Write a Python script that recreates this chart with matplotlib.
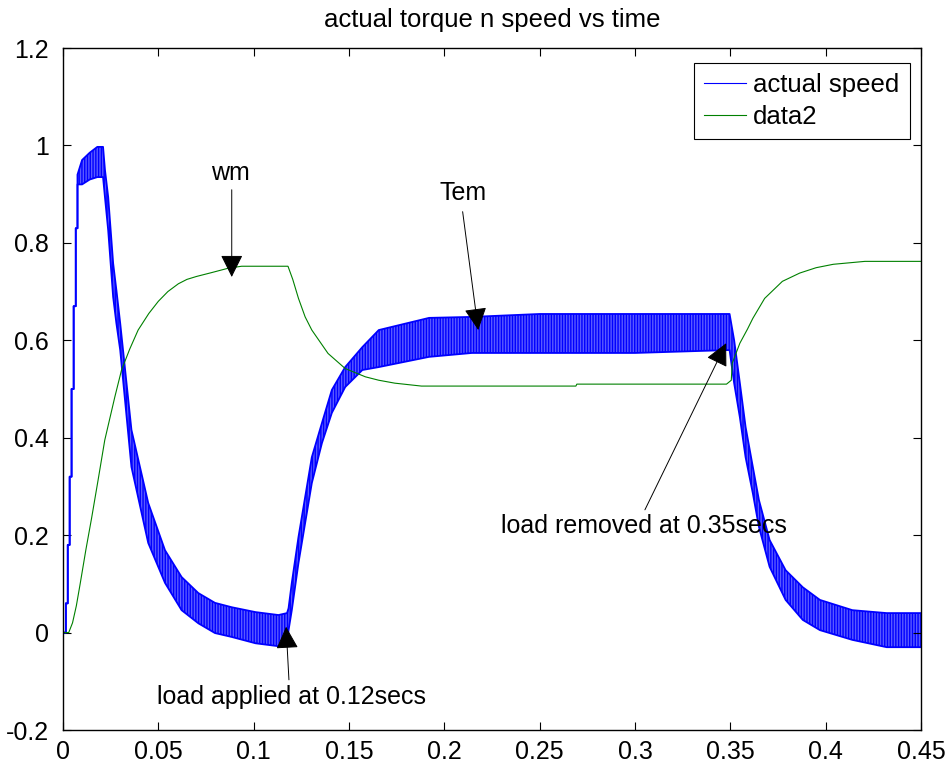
import matplotlib
matplotlib.use("Agg")
import matplotlib.pyplot as plt
from matplotlib.lines import Line2D

plt.rcParams['font.family'] = ['Liberation Sans', 'DejaVu Sans']
plt.rcParams['hatch.linewidth'] = 1.0

# blue curve (Tem): upper and lower edge of the ripple band
tem_t = [0.0, 0.0015, 0.0015, 0.0025, 0.0025, 0.0035, 0.0035, 0.0045, 0.0045,
         0.0056, 0.0056, 0.0067, 0.0067, 0.0076, 0.0076, 0.010, 0.014, 0.018,
         0.021, 0.022, 0.0237, 0.0263, 0.028, 0.030, 0.0359, 0.0447, 0.0535,
         0.0622, 0.071, 0.0797, 0.0885, 0.101, 0.113, 0.1175, 0.1183, 0.120,
         0.1235, 0.127, 0.1305, 0.1358, 0.141, 0.148, 0.157, 0.1656, 0.192,
         0.2145, 0.25, 0.30, 0.3496, 0.352, 0.355, 0.358, 0.3618, 0.365,
         0.3706, 0.379, 0.388, 0.397, 0.414, 0.432, 0.45]
tem_hi = [0.0, 0.0, 0.06, 0.06, 0.18, 0.18, 0.32, 0.32, 0.50,
          0.50, 0.67, 0.67, 0.83, 0.83, 0.94, 0.97, 0.985, 0.997,
          0.997, 0.95, 0.894, 0.758, 0.703, 0.635, 0.416, 0.266, 0.169,
          0.114, 0.081, 0.061, 0.052, 0.042, 0.036, 0.040, 0.050, 0.102,
          0.196, 0.278, 0.360, 0.430, 0.498, 0.545, 0.586, 0.621, 0.646,
          0.648, 0.654, 0.654, 0.654, 0.600, 0.512, 0.422, 0.340, 0.272,
          0.190, 0.128, 0.093, 0.067, 0.046, 0.040, 0.040]
tem_lo = [0.0, 0.0, 0.06, 0.06, 0.18, 0.18, 0.32, 0.32, 0.50,
          0.50, 0.67, 0.67, 0.83, 0.83, 0.92, 0.92, 0.93, 0.935,
          0.935, 0.894, 0.826, 0.689, 0.635, 0.580, 0.340, 0.184, 0.102,
          0.046, 0.019, -0.001, -0.009, -0.022, -0.028, -0.025, 0.005, 0.046,
          0.143, 0.225, 0.307, 0.389, 0.451, 0.504, 0.539, 0.545, 0.566,
          0.574, 0.574, 0.574, 0.580, 0.512, 0.442, 0.360, 0.286, 0.217,
          0.135, 0.067, 0.026, 0.005, -0.015, -0.030, -0.030]

# green curve (wm)
wm_t = [0.0, 0.003, 0.005, 0.007, 0.009, 0.012, 0.015, 0.0184, 0.0219, 0.0272,
        0.0307, 0.035, 0.0394, 0.045, 0.05, 0.055, 0.0605, 0.065, 0.07, 0.078,
        0.0867, 0.0937, 0.118, 0.1205, 0.1235, 0.127, 0.1305, 0.139, 0.148,
        0.1586, 0.1656, 0.174, 0.188, 0.269, 0.2695, 0.348, 0.3505, 0.351,
        0.355, 0.359, 0.3618, 0.368, 0.3773, 0.3864, 0.395, 0.404, 0.4206, 0.45]
wm_v = [0.0, 0.0, 0.02, 0.055, 0.10, 0.17, 0.235, 0.313, 0.395, 0.484,
        0.539, 0.582, 0.621, 0.655, 0.680, 0.700, 0.716, 0.725, 0.731, 0.739,
        0.748, 0.752, 0.752, 0.725, 0.686, 0.648, 0.621, 0.573, 0.542,
        0.525, 0.518, 0.512, 0.506, 0.506, 0.510, 0.510, 0.518, 0.553,
        0.594, 0.623, 0.645, 0.686, 0.721, 0.738, 0.749, 0.756, 0.762, 0.762]

xticks = [0, 0.05, 0.1, 0.15, 0.2, 0.25, 0.3, 0.35, 0.4, 0.45]
xtick_labels = ['0', '0.05', '0.1', '0.15', '0.2', '0.25', '0.3', '0.35', '0.4', '0.45']
yticks = [-0.2, 0, 0.2, 0.4, 0.6, 0.8, 1.0, 1.2]
ytick_labels = ['-0.2', '0', '0.2', '0.4', '0.6', '0.8', '1', '1.2']

fig = plt.figure(figsize=(9.53, 7.69), dpi=100)
ax = fig.add_axes([63 / 953, 1 - 730 / 769, 858 / 953, 682 / 769])

# ripple band: hatched fill between the edges, edges drawn as lines
ax.fill_between(tem_t, tem_lo, tem_hi, facecolor='#5a5aff', edgecolor='#0000ff',
                hatch='||||||', linewidth=0)
ax.plot(tem_t, tem_hi, color='#0000ff', lw=1.3)
ax.plot(tem_t, tem_lo, color='#0000ff', lw=1.3)
ax.plot(wm_t, wm_v, color='#008000', lw=0.8)

ax.set_xlim(0, 0.45)
ax.set_ylim(-0.2, 1.2)
ax.set_xticks(xticks)
ax.set_xticklabels(xtick_labels)
ax.set_yticks(yticks)
ax.set_yticklabels(ytick_labels)
ax.tick_params(direction='in', top=True, right=True, length=6, width=0.8, labelsize=18)
ax.tick_params(axis='x', pad=7)
ax.tick_params(axis='y', pad=10)
for s in ax.spines.values():
    s.set_linewidth(1.0)

ax.set_title('actual torque n speed vs time', fontsize=18.5, pad=15)

handles = [Line2D([], [], color='#0000ff', lw=0.8),
           Line2D([], [], color='#008000', lw=0.8)]
leg = ax.legend(handles, ['actual speed', 'data2'], loc='upper right',
                bbox_to_anchor=(0.987, 0.978), borderaxespad=0, fontsize=18.5,
                fancybox=False, framealpha=1, edgecolor='black',
                handlelength=1.6, handletextpad=0.3, labelspacing=0.3, borderpad=0.4)
leg.get_frame().set_linewidth(0.8)

arrow = dict(arrowstyle='-|>,head_length=1.4,head_width=0.7', color='black',
             lw=0.7, mutation_scale=10, shrinkA=0, shrinkB=0)

ax.text(0.0876, 0.943, 'wm', fontsize=18, ha='center', va='center')
ax.annotate('', xy=(0.0885, 0.73), xytext=(0.0885, 0.909), arrowprops=arrow)

ax.text(0.2098, 0.902, 'Tem', fontsize=18, ha='center', va='center')
ax.annotate('', xy=(0.2178, 0.621), xytext=(0.2096, 0.864), arrowprops=arrow)

ax.text(0.3045, 0.219, 'load removed at 0.35secs', fontsize=18, ha='center', va='center')
ax.annotate('', xy=(0.3478, 0.594), xytext=(0.3052, 0.252), arrowprops=arrow)

ax.text(0.1196, -0.132, 'load applied at 0.12secs', fontsize=18, ha='center', va='center')
ax.annotate('', xy=(0.117, 0.012), xytext=(0.1185, -0.097), arrowprops=arrow)

fig.savefig('out.png', dpi=100)
